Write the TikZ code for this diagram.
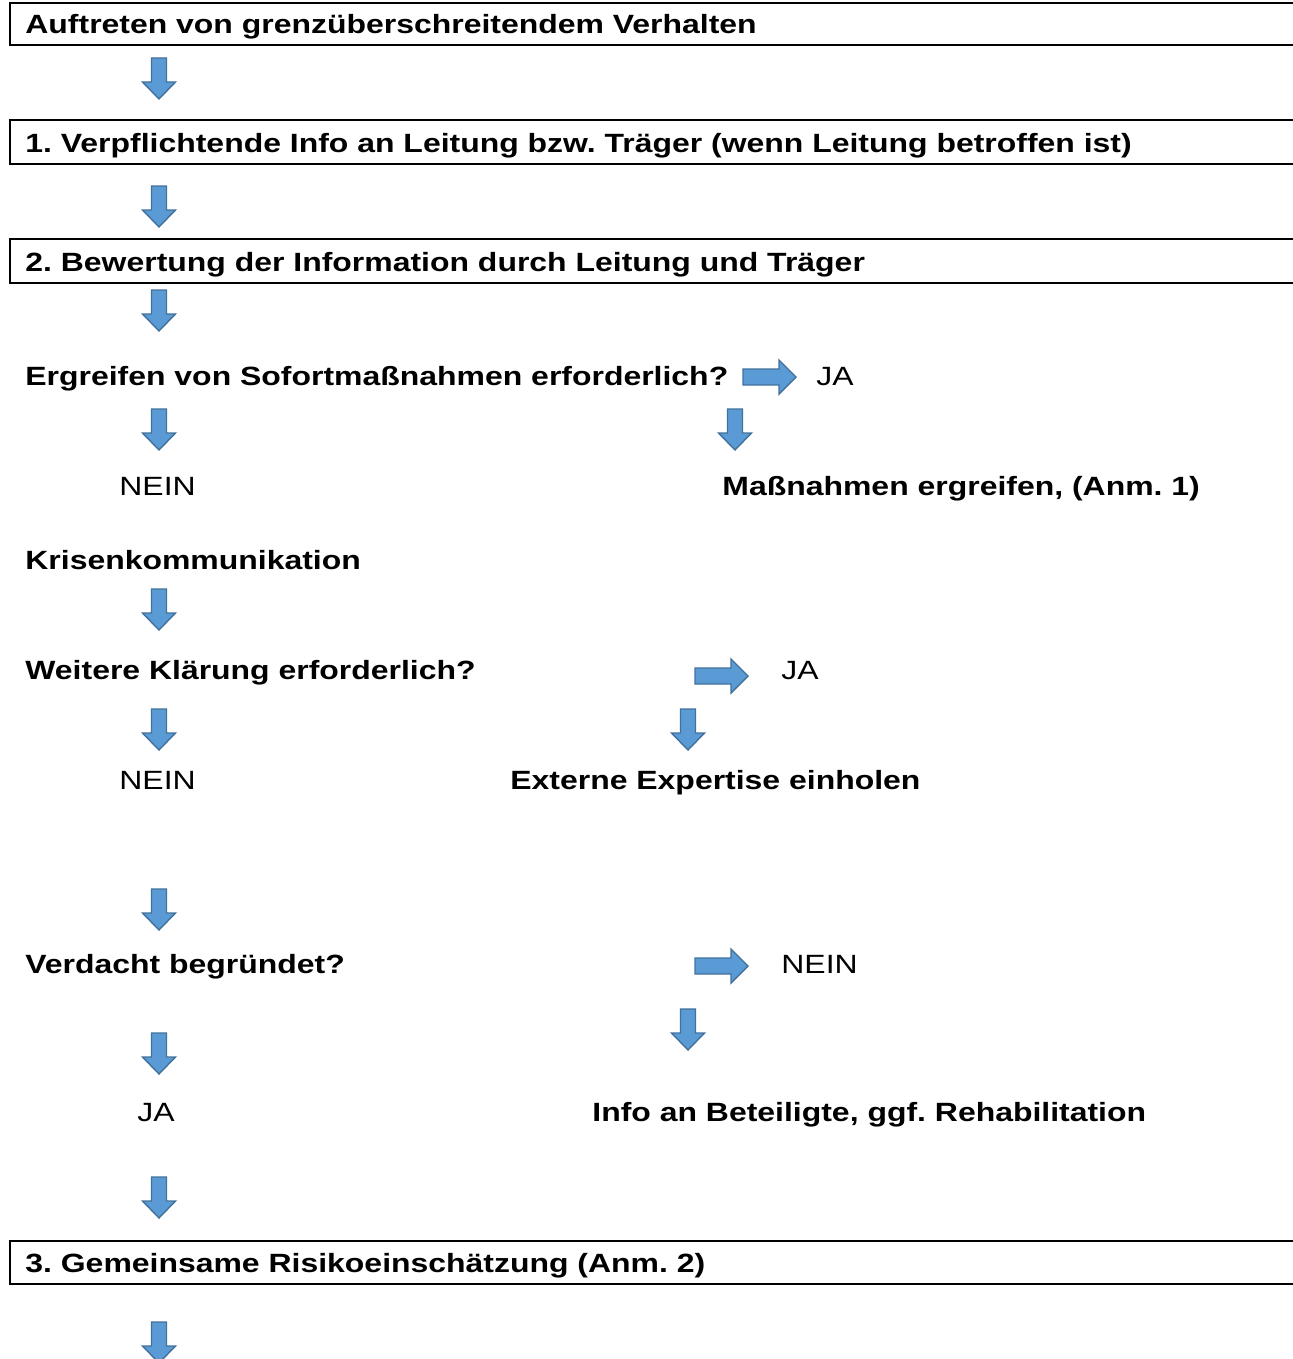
\documentclass[tikz,border=0pt]{standalone}
\usepackage{fontspec}
\setmainfont[FakeStretch=1.21]{Liberation Sans}
\definecolor{arrfill}{HTML}{5B9BD5}
\definecolor{arrline}{HTML}{41719C}
\frenchspacing
\begin{document}
\begin{tikzpicture}[x=0.5pt,y=-0.5pt,
  txt/.style={anchor=base west,inner sep=0pt,font=\fontsize{13.2pt}{15pt}\selectfont\bfseries},
  plain/.style={anchor=base west,inner sep=0pt,font=\fontsize{13.2pt}{15pt}\selectfont},
  boxline/.style={line width=1pt,draw=black},
  arrowstyle/.style={fill=arrfill,draw=arrline,line width=0.7pt,line join=miter},
  downarr/.pic={\draw[arrowstyle] (-7.5,0) -- (7.5,0) -- (7.5,24) -- (16.5,24) -- (0,41) -- (-16.5,24) -- (-7.5,24) -- cycle;},
  rightarr/.pic={\draw[arrowstyle] (0,-8) -- (36,-8) -- (36,-17) -- (53,0) -- (36,17) -- (36,8) -- (0,8) -- cycle;}
]
\useasboundingbox (0,0) rectangle (1292,1359);
\fill[white] (0,0) rectangle (1292,1359);

% boxes
\draw[boxline] (1300,3) -- (10,3) -- (10,45) -- (1300,45);
\node[txt] (b0) at (25,34) {Auftreten von grenzüberschreitendem Verhalten};
\pic at (159,58) {downarr};

\draw[boxline] (1300,120) -- (10,120) -- (10,164) -- (1300,164);
\node[txt] (b1) at (25,153) {1. Verpflichtende Info an Leitung bzw. Träger (wenn Leitung betroffen ist)};
\pic at (159,186) {downarr};

\draw[boxline] (1300,239) -- (10,239) -- (10,283) -- (1300,283);
\node[txt] (b2) at (25,271) {2. Bewertung der Information durch Leitung und Träger};
\pic at (159,290) {downarr};

% Sofortmassnahmen
\node[txt] (q1) at (25,385) {Ergreifen von Sofortmaßnahmen erforderlich?};
\pic at (743,377) {rightarr};
\node[plain] (q1ja) at (816,385) {JA};
\pic at (159,409) {downarr};
\pic at (735,409) {downarr};
\node[plain] (q1nein) at (119,495) {NEIN};
\node[txt] (m1) at (722,495) {Maßnahmen ergreifen, (Anm. 1)};

\node[txt] (kk) at (25,569) {Krisenkommunikation};
\pic at (159,589) {downarr};

% Weitere Klaerung
\node[txt] (q2) at (25,679) {Weitere Klärung erforderlich?};
\pic at (695,676) {rightarr};
\node[plain] (q2ja) at (781,679) {JA};
\pic at (159,709) {downarr};
\pic at (688,709) {downarr};
\node[plain] (q2nein) at (119,789) {NEIN};
\node[txt] (ext) at (510,789) {Externe Expertise einholen};

\pic at (159,889) {downarr};

% Verdacht
\node[txt] (q3) at (25,973) {Verdacht begründet?};
\pic at (695,966) {rightarr};
\node[plain] (q3nein) at (781,973) {NEIN};
\pic at (688,1009) {downarr};
\pic at (159,1033) {downarr};
\node[plain] (q3ja) at (137,1121) {JA};
\node[txt] (info) at (592,1121) {Info an Beteiligte, ggf. Rehabilitation};

\pic at (159,1177) {downarr};

\draw[boxline] (1300,1241) -- (10,1241) -- (10,1284) -- (1300,1284);
\node[txt] (b3) at (25,1272) {3. Gemeinsame Risikoeinschätzung (Anm. 2)};
\pic at (159,1322) {downarr};
\end{tikzpicture}
\end{document}
